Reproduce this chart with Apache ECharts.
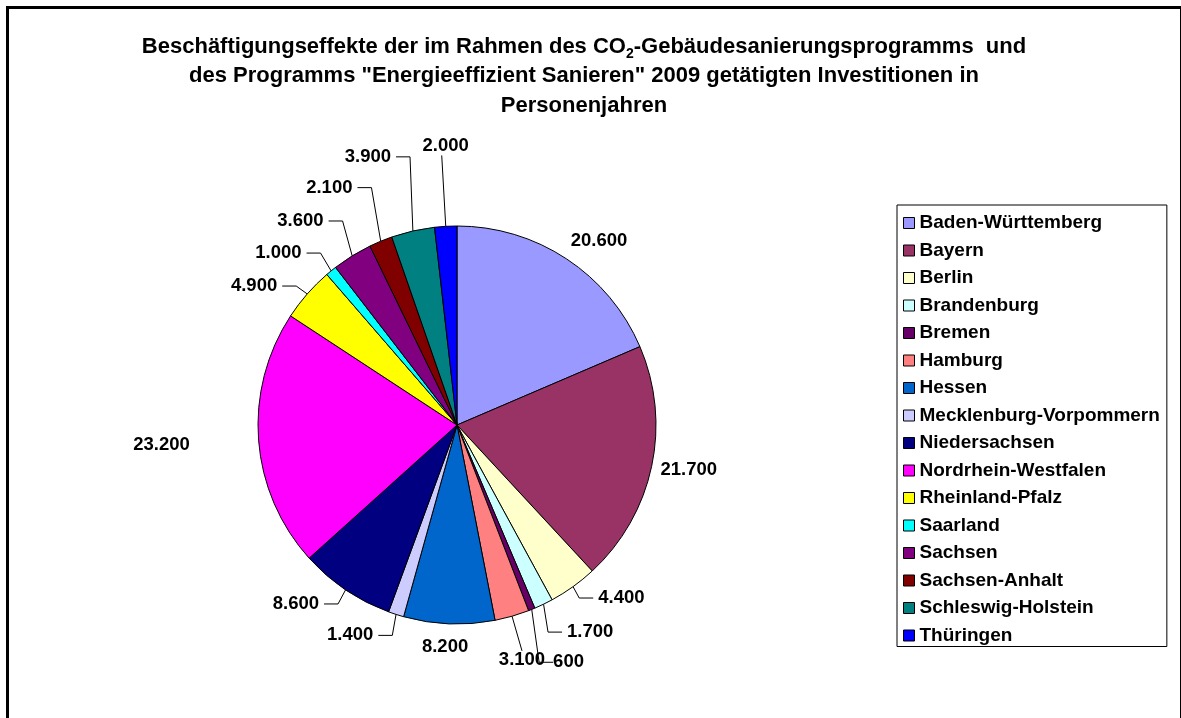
<!DOCTYPE html>
<html>
<head>
<meta charset="utf-8">
<title>Beschäftigungseffekte 2009</title>
<script src="https://cdn.jsdelivr.net/npm/echarts@6/dist/echarts.min.js"></script>
<style>
  html, body { margin: 0; padding: 0; background: #fff; }
  #chart { width: 1181px; height: 718px; }
</style>
</head>
<body>
<div id="chart"></div>
<script>
const states = [
  "Baden-Württemberg", "Bayern", "Berlin", "Brandenburg", "Bremen", "Hamburg",
  "Hessen", "Mecklenburg-Vorpommern", "Niedersachsen", "Nordrhein-Westfalen",
  "Rheinland-Pfalz", "Saarland", "Sachsen", "Sachsen-Anhalt", "Schleswig-Holstein", "Thüringen",
];
const personYears = [20600, 21700, 4400, 1700, 600, 3100, 8200, 1400, 8600, 23200, 4900, 1000, 3600, 2100, 3900, 2000];
const stateColors = [
  "#9999FF", "#993366", "#FFFFCC", "#CCFFFF", "#660066", "#FF8080",
  "#0066CC", "#CCCCFF", "#000080", "#FF00FF", "#FFFF00", "#00FFFF",
  "#800080", "#800000", "#008080", "#0000FF",
];

const FONT = "'Liberation Sans', Arial, sans-serif";

// leader lines / label placement per slice (like the hand-moved Excel labels)
const labelTweaks = {
  "Baden-Württemberg": { len: 22, len2: 0, line: false, dx: -13 },
  "Bayern": { len: 8, len2: 0, line: false, dx: -4, dy: 2 },
  "Berlin": { len: 14, len2: 12 },
  "Brandenburg": { len: 31, len2: 5 },
  "Bremen": { len: 57, len2: 0, dx: -5 },
  "Hamburg": { len: 36, len2: 0, mode: "below" },
  "Hessen": { len: 23, len2: 0, line: false, dx: 25 },
  "Mecklenburg-Vorpommern": { len: 22, len2: 11 },
  "Niedersachsen": { len: 17, len2: 12 },
  "Nordrhein-Westfalen": { len: 64, len2: 0, line: false },
  "Rheinland-Pfalz": { len: 12, len2: 16 },
  "Saarland": { len: 23, len2: 10 },
  "Sachsen": { len: 41, len2: 2 },
  "Sachsen-Anhalt": { len: 58, len2: 1 },
  "Schleswig-Holstein": { len: 76, len2: 0 },
  "Thüringen": { len: 71, len2: 0, mode: "above", dx: 4 },
};
const HOOK = 14;

function fmtDe(v) {
  return String(v).replace(/\B(?=(\d{3})+(?!\d))/g, ".");
}

function buildData() {
  return states.map((name, i) => {
    const t = labelTweaks[name];
    return {
      name,
      value: personYears[i],
      itemStyle: { color: stateColors[i] },
      labelLine: { show: t.line !== false, length: t.len, length2: t.len2 },
    };
  });
}

function layoutLabel(p) {
  const t = labelTweaks[states[p.dataIndex]];
  const out = {};
  const pts = p.labelLinePoints;
  if (pts && t.line !== false) {
    const start = pts[0];
    const end = pts[pts.length - 1];
    if (t.mode === "above" || t.mode === "below") {
      out.x = end[0];
      out.y = end[1];
      out.align = "center";
      out.verticalAlign = t.mode === "above" ? "bottom" : "top";
      out.labelLinePoints = [start, end, end];
    } else {
      const sign = end[0] >= start[0] ? 1 : -1;
      out.labelLinePoints = [start, [end[0] - sign * HOOK, end[1]], end];
    }
  }
  if (t.dx) out.dx = t.dx;
  if (t.dy) out.dy = t.dy;
  return out;
}

const chart = echarts.init(document.getElementById("chart"), null, { renderer: "canvas" });

chart.setOption({
  animation: false,
  backgroundColor: "#fff",
  title: {
    text: "Beschäftigungseffekte der im Rahmen des CO{sub|2}-Gebäudesanierungsprogramms  und\n" +
      "des Programms \"Energieeffizient Sanieren\" 2009 getätigten Investitionen in\nPersonenjahren",
    left: 584,
    top: 32,
    textAlign: "center",
    padding: 0,
    textStyle: {
      fontFamily: FONT,
      fontSize: 22,
      fontWeight: "bold",
      color: "#000",
      lineHeight: 29.5,
      rich: {
        sub: { fontFamily: FONT, fontSize: 14, fontWeight: "bold", color: "#000", lineHeight: 17, verticalAlign: "bottom" },
      },
    },
  },
  legend: {
    orient: "vertical",
    left: 897,
    top: 205,
    padding: [8, 7, 1, 6],
    itemGap: 7.5,
    itemWidth: 11,
    itemHeight: 11,
    icon: "rect",
    selectedMode: false,
    borderColor: "#000",
    borderWidth: 1,
    backgroundColor: "#fff",
    itemStyle: { borderColor: "#000", borderWidth: 1 },
    textStyle: { fontFamily: FONT, fontSize: 19, fontWeight: "bold", color: "#000", lineHeight: 20 },
    data: states,
  },
  graphic: [
    {
      type: "rect",
      shape: { x: 7.5, y: 7.5, width: 1174, height: 730 },
      style: { fill: null, stroke: "#000", lineWidth: 3 },
      silent: true,
    },
  ],
  series: [
    {
      type: "pie",
      center: [457, 425],
      radius: 199,
      startAngle: 90,
      clockwise: true,
      avoidLabelOverlap: false,
      minShowLabelAngle: 0,
      silent: true,
      itemStyle: { borderColor: "#000", borderWidth: 1 },
      label: {
        show: true,
        position: "outside",
        formatter: (p) => fmtDe(p.value),
        fontFamily: FONT,
        fontSize: 18.5,
        fontWeight: "bold",
        color: "#000",
      },
      labelLine: { lineStyle: { color: "#000", width: 1 }, smooth: false },
      labelLayout: layoutLabel,
      data: buildData(),
    },
  ],
});
</script>
</body>
</html>
